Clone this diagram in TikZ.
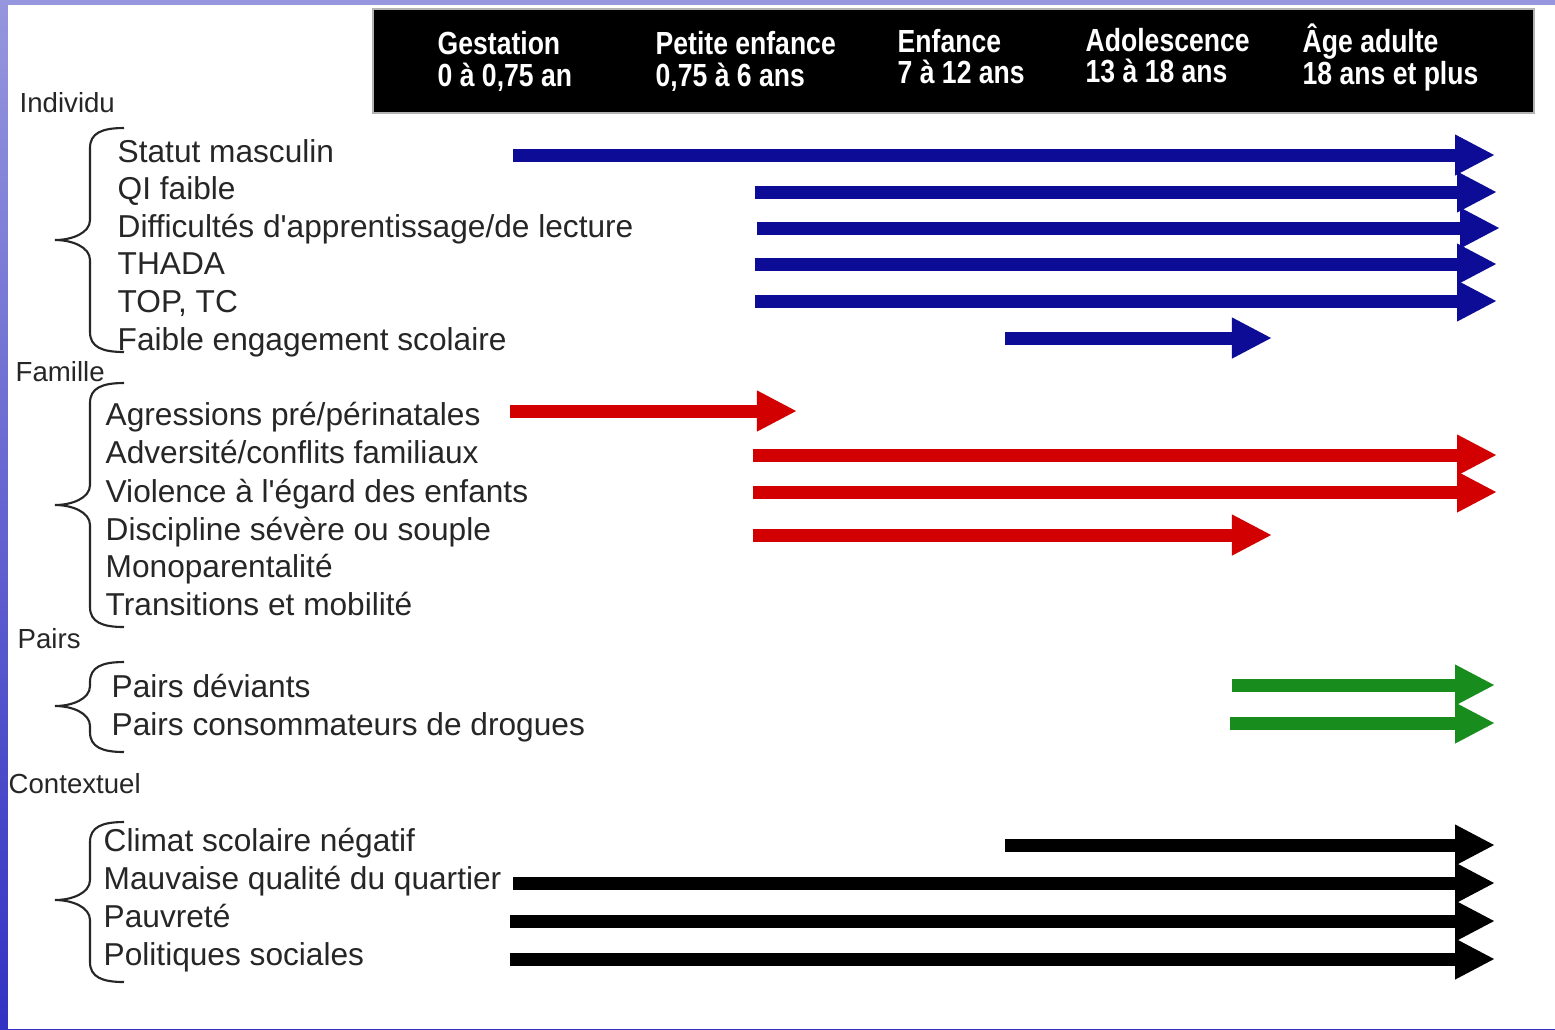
\documentclass[tikz,border=0pt]{standalone}
\usepackage{fontspec}
\setmainfont{Liberation Sans}
\newfontfamily\entetefont[FakeStretch=0.83]{Liberation Sans}
\usetikzlibrary{arrows.meta}

\definecolor{bleu}{RGB}{12,12,150}
\definecolor{rouge}{RGB}{210,0,0}
\definecolor{vert}{RGB}{25,140,30}
\definecolor{fondhaut}{RGB}{150,150,222}
\definecolor{fondbas}{RGB}{50,50,195}

\begin{document}
\begin{tikzpicture}[x=0.01cm, y=-0.01cm,
  item/.style={anchor=base west, inner sep=0pt, text=black!85, font=\fontsize{9pt}{10pt}\selectfont},
  categorie/.style={anchor=base west, inner sep=0pt, text=black!85, font=\fontsize{7.85pt}{9pt}\selectfont},
  entete/.style={anchor=base west, inner sep=0pt, text=white, font=\entetefont\bfseries\fontsize{9.1pt}{10pt}\selectfont},
  fleche/.style={line width=1.3mm, -{Triangle[length=4mm, width=3.8mm]}},
  accolade/.style={black!85, line width=0.6pt}]

\useasboundingbox (0,0) rectangle (1555,1029);
\shade[top color=fondhaut, bottom color=fondbas] (0,0) rectangle (1555,1029);
\fill[white] (8,5) rectangle (1555,1029);

% bandeau des ages
\draw[fill=black, draw=gray!60, line width=0.6pt] (373,9) rectangle (1534,113);
\node[entete] (gest1) at (437,54) {Gestation};
\node[entete] (gest2) at (437,86) {0 à 0,75 an};
\node[entete] (petite1) at (655,54) {Petite enfance};
\node[entete] (petite2) at (655,86) {0,75 à 6 ans};
\node[entete] (enf1) at (897,52) {Enfance};
\node[entete] (enf2) at (897,83) {7 à 12 ans};
\node[entete] (ado1) at (1085,51) {Adolescence};
\node[entete] (ado2) at (1085,82) {13 à 18 ans};
\node[entete] (adu1) at (1302,52) {Âge adulte};
\node[entete] (adu2) at (1302,84) {18 ans et plus};

\node[categorie] (individu) at (19,112) {Individu};
\node[categorie] (famille) at (15,381) {Famille};
\node[categorie] (pairs) at (17,648) {Pairs};
\node[categorie] (contexte) at (8,793) {Contextuel};

\foreach \y/\t [count=\i] in {162/Statut masculin, 199/QI faible,
    237/{Difficultés d\textquotesingle apprentissage/de lecture}, 274/THADA, 312/{TOP, TC},
    350/Faible engagement scolaire} {
 \node[item] (ind\i) at (117,\y) {\t};
};
\foreach \y/\t [count=\i] in {425/{Agressions pré/périnatales}, 463/{Adversité/conflits familiaux},
    502/{Violence à l\textquotesingle égard des enfants}, 540/Discipline sévère ou souple,
    577/Monoparentalité, 615/Transitions et mobilité} {
 \node[item] (fam\i) at (105,\y) {\t};
};
\foreach \y/\t [count=\i] in {697/Pairs déviants, 735/Pairs consommateurs de drogues} {
 \node[item] (pai\i) at (111,\y) {\t};
};
\foreach \y/\t [count=\i] in {851/Climat scolaire négatif, 889/Mauvaise qualité du quartier,
    927/Pauvreté, 965/Politiques sociales} {
 \node[item] (ctx\i) at (103,\y) {\t};
};

\foreach \h/\m/\b in {128/240/352, 383/505/627, 662/706/752, 822/900/982} {
 \draw[accolade] (124,\h) .. controls (102,\h) and (90,\h+5) .. (90,\h+20) -- (90,\m-20)
   .. controls (90,\m-7) and (72,\m) .. (55,\m) .. controls (72,\m) and (90,\m+7) .. (90,\m+20)
   -- (90,\b-20) .. controls (90,\b-5) and (102,\b) .. (124,\b);
};

\foreach \y/\a/\b in {155/513/1495, 192/755/1497, 228/757/1500, 264/755/1497, 301/755/1497, 338/1005/1272} {
 \draw[fleche, bleu] (\a,\y) -- (\b,\y);
};
\foreach \y/\a/\b in {411/510/797, 455/753/1497, 492/753/1497, 535/753/1272} {
 \draw[fleche, rouge] (\a,\y) -- (\b,\y);
};
\foreach \y/\a/\b in {685/1232/1495, 723/1230/1495} {
 \draw[fleche, vert] (\a,\y) -- (\b,\y);
};
\foreach \y/\a/\b in {845/1005/1495, 883/513/1495, 921/510/1495, 959/510/1495} {
 \draw[fleche, black] (\a,\y) -- (\b,\y);
};

\end{tikzpicture}
\end{document}
